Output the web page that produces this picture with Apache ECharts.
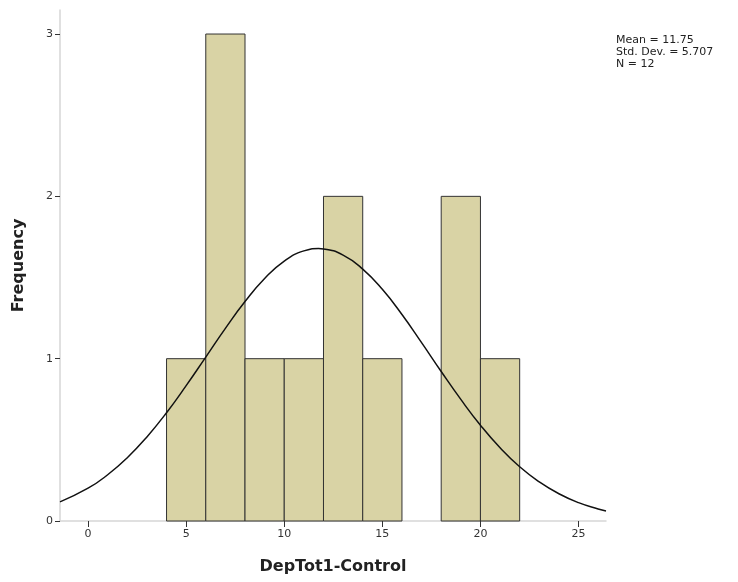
<!DOCTYPE html>
<html>
<head>
<meta charset="utf-8">
<script src="https://cdn.jsdelivr.net/npm/echarts@6/dist/echarts.min.js"></script>
<style>
  html, body { margin: 0; padding: 0; background: #fff; }
  #chart { width: 738px; height: 582px; }
</style>
</head>
<body>
<div id="chart"></div>
<script>
// histogram bins (width 2)
var binStart = [4, 6, 8, 10, 12, 14, 16, 18, 20];
var binEnd = [6, 8, 10, 12, 14, 16, 18, 20, 22];
var binCount = [1, 3, 1, 1, 2, 1, 0, 2, 1];

// normal curve
var curveX = [-1.43, 0, 1, 2, 3, 4, 5, 6, 7, 8, 9, 10, 11, 11.75, 12, 13, 14, 15, 16, 17, 18, 19, 20, 21, 22, 23, 24, 25, 26, 26.4];
var curveY = [0.118, 0.202, 0.285, 0.390, 0.518, 0.667, 0.834, 1.010, 1.187, 1.352, 1.494, 1.601, 1.664, 1.678, 1.676, 1.638, 1.552, 1.427, 1.272, 1.099, 0.921, 0.749, 0.590, 0.451, 0.334, 0.241, 0.168, 0.113, 0.074, 0.062];

var xTicks = [0, 5, 10, 15, 20, 25];
var yTicks = [0, 1, 2, 3];
var statsLines = ['Mean = 11.75', 'Std. Dev. = 5.707', 'N = 12'];

var barData = binStart.map(function (s, i) {
    return [s, binEnd[i], binCount[i]];
}).filter(function (d) { return d[2] > 0; });

var curveData = curveX.map(function (x, i) {
    return [x, curveY[i]];
});

var font = 'DejaVu Sans';
var mcharts = echarts.init(document.getElementById('chart'));
var option = {
    animation: false,
    grid: { left: 60, right: 132, top: 10, bottom: 61 },
    xAxis: {
        type: 'value',
        min: -1.43,
        max: 26.4,
        name: 'DepTot1-Control',
        nameLocation: 'middle',
        nameGap: 38,
        nameTextStyle: { fontFamily: font, fontWeight: 'bold', fontSize: 16, color: '#222' },
        splitLine: { show: false },
        axisLine: { onZero: false, lineStyle: { color: '#d6d6d6', width: 1.5 } },
        axisTick: { customValues: xTicks, length: 6, lineStyle: { color: '#333' } },
        axisLabel: { customValues: xTicks, fontFamily: font, fontSize: 11, color: '#333', margin: 8 }
    },
    yAxis: {
        type: 'value',
        min: 0,
        max: 3.148,
        name: 'Frequency',
        nameLocation: 'middle',
        nameGap: 33,
        nameTextStyle: { fontFamily: font, fontWeight: 'bold', fontSize: 16, color: '#222' },
        splitLine: { show: false },
        axisLine: { show: true, onZero: false, lineStyle: { color: '#d6d6d6', width: 1.5 } },
        axisTick: { show: true, customValues: yTicks, length: 5, lineStyle: { color: '#333' } },
        axisLabel: { customValues: yTicks, fontFamily: font, fontSize: 11, color: '#333', margin: 7 }
    },
    graphic: [{
        type: 'text',
        left: 616,
        top: 34,
        style: {
            text: statsLines.join('\n'),
            fontFamily: font,
            fontSize: 11,
            lineHeight: 12,
            fill: '#222'
        }
    }],
    series: [
        {
            type: 'custom',
            data: barData,
            renderItem: function (params, api) {
                var p0 = api.coord([api.value(0), 0]);
                var p1 = api.coord([api.value(1), api.value(2)]);
                return {
                    type: 'rect',
                    shape: { x: p0[0], y: p1[1], width: p1[0] - p0[0], height: p0[1] - p1[1] },
                    style: { fill: '#d9d3a5', stroke: '#333', lineWidth: 1 }
                };
            },
            encode: { x: [0, 1], y: 2 },
            z: 2
        },
        {
            type: 'line',
            data: curveData,
            smooth: true,
            showSymbol: false,
            lineStyle: { color: '#111', width: 1.5 },
            z: 3
        }
    ]
};
mcharts.setOption(option, true);
</script>
</body>
</html>
